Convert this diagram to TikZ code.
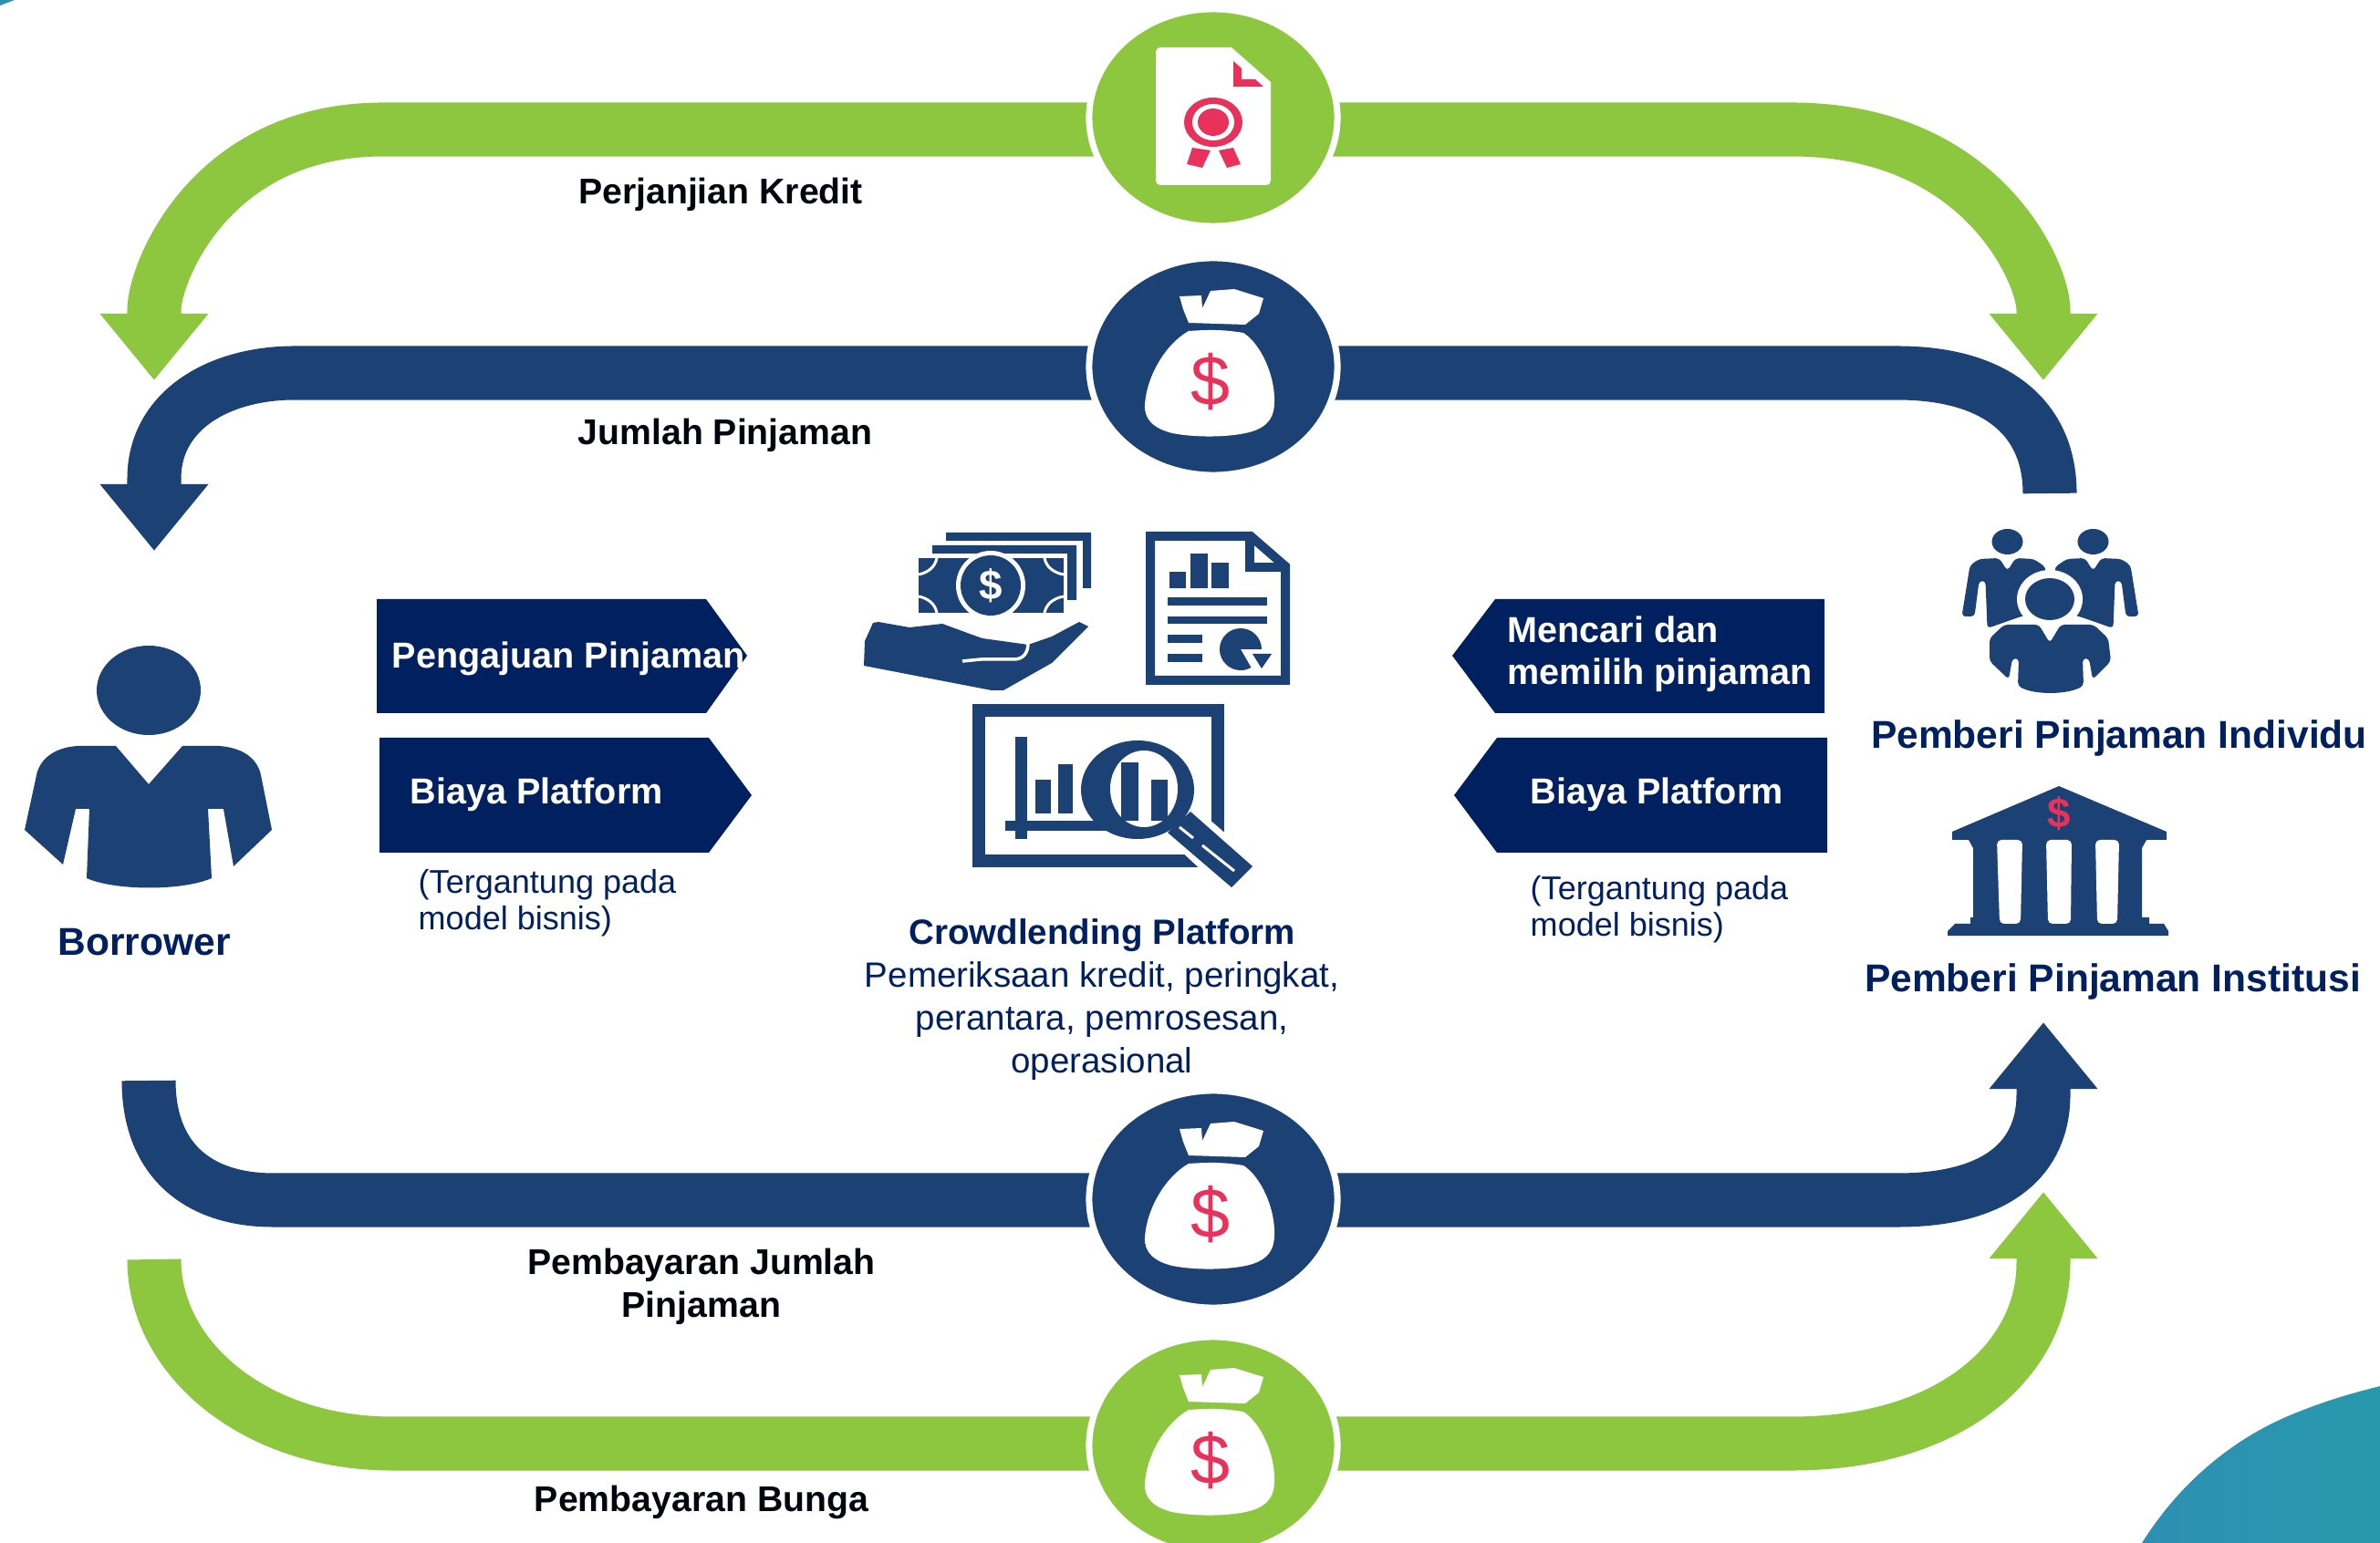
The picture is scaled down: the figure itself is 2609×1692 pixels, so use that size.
\documentclass[tikz,border=0pt]{standalone}
\usepackage{fontspec}
\setmainfont{Liberation Sans}
\usetikzlibrary{arrows.meta,backgrounds,shapes.geometric}
\definecolor{navyicon}{HTML}{1B4175}
\definecolor{navybox}{HTML}{002060}
\definecolor{leafgreen}{HTML}{8DC63F}
\definecolor{alertred}{HTML}{E8315B}
\definecolor{tealone}{HTML}{2E8FB3}
\definecolor{tealtwo}{HTML}{2899AD}
\tikzset{
  hub/.style={ellipse, draw=white, line width=.07cm, inner sep=0pt, minimum width=2.72cm, minimum height=2.38cm},
  hubgreen/.style={hub, fill=leafgreen},
  hubblue/.style={hub, fill=navyicon},
  bandgreen/.style={draw=leafgreen, line width=.59cm},
  bandblue/.style={draw=navyicon, line width=.59cm},
  tipband/.style={-{Triangle[width=1.14cm,length=.73cm]}},
  flowlabel/.style={font=\fontsize{11.15}{13.2}\selectfont\bfseries, text=black!85!navybox, align=center},
  actorlabel/.style={font=\fontsize{12.1}{13.8}\selectfont\bfseries, text=navybox, align=center},
  boxlabel/.style={font=\fontsize{11.25}{13}\selectfont\bfseries, text=white, align=left, anchor=west, inner sep=0pt},
  notelabel/.style={font=\fontsize{10.25}{11.4}\selectfont, text=navybox, align=left, anchor=north west, inner sep=0pt},
  centerlabel/.style={font=\fontsize{10.95}{13.3}\selectfont, text=navybox, align=center},
  moneybag/.pic={
    \fill[white] (-37,-77) -- (-13,-78) -- (-12,-64) -- (-3,-83) -- (23,-85) -- (55,-75) -- (50,-58) -- (35,-46) -- (-27,-48) -- (-33,-63) -- cycle;
    \fill[white] (-27,-39) .. controls (0,-41) and (15,-40) .. (33,-37) .. controls (52,-25) and (68,10) .. (67,39) .. controls (67,60) and (55,70) .. (30,74) .. controls (5,78) and (-25,77) .. (-45,73) .. controls (-65,68) and (-76,58) .. (-75,42) .. controls (-73,10) and (-52,-25) .. (-27,-39) -- cycle;
    \node (-dollar) [font=\fontsize{22}{22}\selectfont, text=alertred, inner sep=0pt] at (-3,17) {\$};
  }
}
\begin{document}
\begin{tikzpicture}[x=.01cm, y=-.01cm]
\useasboundingbox (0,0) rectangle (2609,1692);
\shade[left color=tealone, right color=tealtwo] (2348,1692) .. controls (2390,1625) and (2450,1575) .. (2520,1548) .. controls (2555,1534) and (2585,1526) .. (2609,1520) -- (2609,1692) -- cycle;
\fill[tealone] (0,0) -- (16,0) -- (0,6) -- cycle;

\node (agreement) [hubgreen] at (1330,129) {};
\node (disburse) [hubblue] at (1330,402) {};
\node (principal) [hubblue] at (1330,1315) {};
\node (interest) [hubgreen] at (1330,1585) {};

\coordinate (greenTL) at (420,142);
\coordinate (greenTR) at (1964,142);
\coordinate (blueTL) at (323,409);
\coordinate (blueTR) at (2080,409);
\coordinate (blueBL) at (300,1316);
\coordinate (blueBR) at (2080,1316);
\coordinate (greenBL) at (430,1583);
\coordinate (greenBR) at (1964,1583);
\coordinate (blueStart) at (163,1185);
\coordinate (blueEnd) at (2247,541);
\coordinate (greenStart) at (169,1381);

\begin{scope}[on background layer]
\draw[bandgreen, tipband] (agreement.center |- greenTL) -- (greenTL) .. controls (230,142) and (169,300) .. (169,340) -- (169,417);
\draw[bandgreen, tipband] (agreement.center |- greenTR) -- (greenTR) .. controls (2173,142) and (2240,300) .. (2240,340) -- (2240,417);
\draw[bandblue, tipband] (disburse.center |- blueTL) -- (blueTL) .. controls (240,409) and (169,450) .. (169,525) -- (169,604);
\draw[bandblue] (disburse.center |- blueTR) -- (blueTR) .. controls (2190,409) and (2247,460) .. (blueEnd);
\draw[bandblue] (blueStart) .. controls (163,1270) and (215,1316) .. (blueBL) -- (principal.center |- blueBL);
\draw[bandblue, tipband] (principal.center |- blueBR) -- (blueBR) .. controls (2190,1316) and (2240,1270) .. (2240,1200) -- (2240,1121);
\draw[bandgreen] (greenStart) .. controls (169,1490) and (280,1583) .. (greenBL) -- (interest.center |- greenBL);
\draw[bandgreen, tipband] (interest.center |- greenBR) -- (greenBR) .. controls (2140,1583) and (2240,1490) .. (2240,1385) -- (2240,1307);
\end{scope}

\pic (bagdisburse) at (1330,402) {moneybag};
\pic (bagprincipal) at (1330,1315) {moneybag};
\pic (baginterest) at (1330,1585) {moneybag};

\fill[white] (1274,52) -- (1350,52) -- (1393,90) -- (1393,196) [rounded corners=.05cm] -- (1393,203) -- (1267,203) -- (1267,52) -- cycle;
\fill[alertred] (1352,67) -- (1352,95) -- (1385,95) -- (1376,87) -- (1361,87) -- (1361,75) -- cycle;
\fill[alertred] (1330,134) ellipse [x radius=32, y radius=27];
\fill[white] (1330,134) ellipse [x radius=23, y radius=20];
\fill[alertred] (1330,134) ellipse [x radius=17, y radius=15];
\fill[alertred] (1307,162) -- (1301,180) -- (1318,184) -- (1327,165) -- cycle;
\fill[alertred] (1336,165) -- (1345,184) -- (1360,180) -- (1352,162) -- cycle;

\fill[navybox] (413,657) -- (774,657) -- (819,719) -- (774,782) -- (413,782) -- cycle;
\fill[navybox] (416,809) -- (777,809) -- (824,872) -- (777,935) -- (416,935) -- cycle;
\fill[navybox] (2000,657) -- (1639,657) -- (1592,719) -- (1639,782) -- (2000,782) -- cycle;
\fill[navybox] (2003,809) -- (1641,809) -- (1594,872) -- (1641,935) -- (2003,935) -- cycle;
\node (askloan) [boxlabel] at (429,722) {Pengajuan Pinjaman};
\node (feeleft) [boxlabel] at (449,871) {Biaya Platform};
\node (findloan) [boxlabel] at (1652,717) {Mencari dan\\memilih pinjaman};
\node (feeright) [boxlabel] at (1677,871) {Biaya Platform};
\node (noteleft) [notelabel] at (458,953) {(Tergantung pada\\model bisnis)};
\node (noteright) [notelabel] at (1677,960) {(Tergantung pada\\model bisnis)};

\node (labelagree) [flowlabel] at (790,213) {Perjanjian Kredit};
\node (labelloan) [flowlabel] at (795,477) {Jumlah Pinjaman};
\node (labelprincipal) [flowlabel] at (769,1411) {Pembayaran Jumlah\\Pinjaman};
\node (labelinterest) [flowlabel] at (769,1647) {Pembayaran Bunga};
\node (borrower) [actorlabel] at (158,1033) {Borrower};
\node (individu) [actorlabel] at (2323,810) {Pemberi Pinjaman Individu};
\node (institusi) [actorlabel] at (2316,1076) {Pemberi Pinjaman Institusi};
\node (platform) [centerlabel] at (1208,1096) {\textbf{Crowdlending Platform}\\Pemeriksaan kredit, peringkat,\\perantara, pemrosesan,\\operasional};

\fill[navyicon] (163,757) ellipse [x radius=57, y radius=49];
\fill[navyicon] (127,818) -- (163,860) -- (200,818) -- (240,818) .. controls (270,820) and (283,835) .. (286,850) -- (298,910) -- (256,950) -- (245,887) -- (228,887) -- (232,963) .. controls (200,977) and (127,977) .. (95,963) -- (98,887) -- (83,887) -- (69,948) -- (27,910) -- (40,850) .. controls (43,835) and (56,820) .. (85,818) -- cycle;

\foreach \mir in {1,-1}{
  \begin{scope}[shift={(2247.5,0)}, xscale=\mir]
    \fill[navyicon] (-47,594) ellipse [x radius=17, y radius=14];
    \fill[navyicon, rounded corners=.04cm] (-56,612) -- (-47,626) -- (-38,612) -- (-18,613) -- (-5,622) -- (-5,670) -- (-32,676) -- (-69,689) -- (-71,637) -- (-78,637) -- (-83,676) -- (-97,676) -- (-88,620) -- (-78,613) -- cycle;
  \end{scope}
}
\fill[white] (2247,657) ellipse [x radius=36, y radius=32];
\fill[white, rounded corners=.05cm] (2175,690) -- (2320,690) -- (2320,750) -- (2175,750) -- cycle;
\fill[navyicon] (2247,657) ellipse [x radius=27, y radius=23];
\fill[navyicon, rounded corners=.04cm] (2235,685) -- (2247,705) -- (2259,685) -- (2295,685) -- (2311,700) -- (2314,725) -- (2294,745) -- (2290,722) -- (2283,722) -- (2284,752) .. controls (2265,762) and (2230,762) .. (2212,752) -- (2213,722) -- (2206,722) -- (2202,745) -- (2181,725) -- (2181,700) -- (2197,685) -- cycle;

\fill[navyicon] (2257,862) -- (2375,912) -- (2375,921) -- (2353,921) -- (2348,930) -- (2348,1006) -- (2356,1006) -- (2356,1013) -- (2372,1013) -- (2377,1021) -- (2377,1026) -- (2135,1026) -- (2135,1021) -- (2143,1013) -- (2160,1013) -- (2160,1006) -- (2163,1006) -- (2163,930) -- (2158,921) -- (2140,921) -- (2140,912) -- cycle;
\fill[white, rounded corners=.05cm] (2189,921) -- (2217,921) -- (2215,1013) -- (2192,1013) -- cycle;
\fill[white, rounded corners=.05cm] (2243,921) -- (2271,921) -- (2270,1013) -- (2245,1013) -- cycle;
\fill[white, rounded corners=.05cm] (2297,921) -- (2323,921) -- (2321,1013) -- (2299,1013) -- cycle;
\node (bankdollar) [font=\fontsize{13}{13}\selectfont\bfseries, text=alertred, inner sep=0pt] at (2257,892) {\$};

\fill[navyicon] (1037,584) -- (1196,584) -- (1196,645) -- (1187,645) -- (1187,593) -- (1037,593) -- cycle;
\fill[navyicon] (1022,598) -- (1180,598) -- (1180,658) -- (1170,658) -- (1170,607) -- (1022,607) -- cycle;
\fill[navyicon] (1007,612) rectangle (1166,672);
\draw[white, line width=.03cm] (1027,612) .. controls (1025,622) and (1017,628) .. (1007,630);
\draw[white, line width=.03cm] (1145,612) .. controls (1147,622) and (1155,628) .. (1166,630);
\draw[white, line width=.03cm] (1027,672) .. controls (1025,662) and (1017,656) .. (1007,654);
\draw[white, line width=.03cm] (1145,672) .. controls (1147,662) and (1155,656) .. (1166,654);
\fill[white] (1086,642) circle [radius=38];
\fill[navyicon] (1086,642) circle [radius=33];
\node (billdollar) [font=\fontsize{13}{13}\selectfont\bfseries, text=white, inner sep=0pt] at (1086,642) {\$};
\fill[navyicon] (947,730) -- (948,703) -- (957,683) -- (963,682) -- (997,688) -- (1033,684) -- (1063,695) -- (1077,700) -- (1113,705) -- (1127,707) -- (1153,698) -- (1183,682) -- (1193,687) -- (1153,727) -- (1100,757) -- (1087,757) -- cycle;
\draw[white, line width=.035cm] (1055,725) -- (1075,723) -- (1113,723) .. controls (1122,722) and (1127,716) .. (1127,705);

\draw[navyicon, line width=.1cm, fill=white] (1261,588) -- (1371,588) -- (1409,621) -- (1409,746) -- (1261,746) -- cycle;
\draw[navyicon, line width=.1cm] (1370,590) -- (1370,622) -- (1407,622);
\fill[navyicon] (1282,627) rectangle (1300,645);
\fill[navyicon] (1305,607) rectangle (1324,645);
\fill[navyicon] (1328,617) rectangle (1347,645);
\fill[navyicon] (1280,655) rectangle (1389,664);
\fill[navyicon] (1280,676) rectangle (1389,684);
\fill[navyicon] (1280,696) rectangle (1318,705);
\fill[navyicon] (1280,717) rectangle (1318,726);
\fill[navyicon] (1360,712) -- (1383,712) arc[start angle=0, end angle=300, radius=.23cm] -- cycle;
\fill[navyicon] (1373,717) -- (1394,717) -- (1383,733) -- cycle;

\draw[navyicon, line width=.14cm] (1073,779) rectangle (1335,944);
\fill[navyicon] (1113,808) rectangle (1126,920);
\fill[navyicon] (1102,900) rectangle (1217,911);
\fill[navyicon] (1135,855) rectangle (1152,892);
\fill[navyicon] (1160,838) rectangle (1176,892);
\fill[white] (1310,885) -- (1385,950) -- (1350,985) -- (1275,915) -- cycle;
\fill[navyicon] (1305,890) -- (1373,950) -- (1350,973) -- (1280,913) -- cycle;
\fill[navyicon] (1247,866) ellipse [x radius=62, y radius=54];
\fill[white] (1254,865) ellipse [x radius=37, y radius=42];
\fill[navyicon] (1229,836) rectangle (1248,900);
\fill[navyicon] (1262,855) rectangle (1280,900);
\draw[white, line width=.03cm] (1293,907) -- (1308,919);
\draw[white, line width=.03cm] (1318,927) -- (1353,955);
\end{tikzpicture}
\end{document}
